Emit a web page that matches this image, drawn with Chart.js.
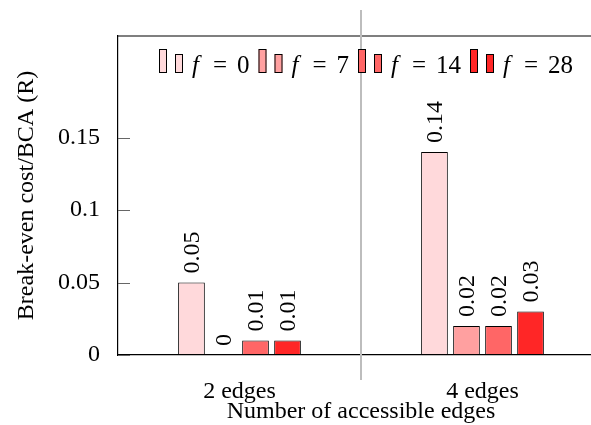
<!DOCTYPE html>
<html>
<head>
<meta charset="utf-8">
<script src="https://cdn.jsdelivr.net/npm/chart.js@4/dist/chart.umd.min.js"></script>
<style>
  html, body { margin: 0; padding: 0; overflow: hidden; background: #fff; }
  canvas { display: block; }
</style>
</head>
<body>
<canvas id="breakEven" width="620" height="425"></canvas>
<script>
// break-even cost relative to BCA, grouped by number of accessible edges
const categories = ['2 edges', '4 edges'];
const fLevels = ['0', '7', '14', '28'];
const fColors = ['#ffd9db', '#ffa0a0', '#ff6666', '#ff2626'];
const costF0 = [0.05, 0.14];
const costF7 = [0, 0.02];
const costF14 = [0.01, 0.02];
const costF28 = [0.01, 0.03];
const yTicks = [0, 0.05, 0.1, 0.15];
const yMax = 0.22;

const FONT = "'Liberation Serif', serif";
const series = [costF0, costF7, costF14, costF28];

// top frame line, inward tick marks and the grey group separator
const framePlugin = {
    id: 'frame',
    afterDraw(chart) {
        const ctx = chart.ctx;
        const area = chart.chartArea;
        const x = chart.scales.x;
        const y = chart.scales.y;
        ctx.save();
        ctx.strokeStyle = '#000';
        ctx.lineWidth = 1.2;
        ctx.beginPath();
        ctx.moveTo(area.left, area.top);
        ctx.lineTo(area.right, area.top);
        ctx.lineTo(area.right, area.bottom);
        ctx.stroke();

        ctx.strokeStyle = '#666';
        ctx.lineWidth = 1;
        yTicks.forEach(v => {
            const py = Math.round(y.getPixelForValue(v)) + 0.5;
            ctx.beginPath();
            ctx.moveTo(area.left, py);
            ctx.lineTo(area.left + 12, py);
            ctx.moveTo(area.right, py);
            ctx.lineTo(area.right - 12, py);
            ctx.stroke();
        });

        const sx = (x.getPixelForTick(0) + x.getPixelForTick(1)) / 2;
        ctx.strokeStyle = '#bdbdbd';
        ctx.lineWidth = 2;
        ctx.beginPath();
        ctx.moveTo(sx, 10);
        ctx.lineTo(sx, 380);
        ctx.stroke();
        ctx.restore();
    }
};

// vertical value labels above each bar
const valueLabels = {
    id: 'valueLabels',
    afterDatasetsDraw(chart) {
        const ctx = chart.ctx;
        ctx.save();
        ctx.fillStyle = '#000';
        ctx.font = '24px ' + FONT;
        ctx.textAlign = 'left';
        ctx.textBaseline = 'middle';
        chart.data.datasets.forEach((ds, i) => {
            chart.getDatasetMeta(i).data.forEach((bar, j) => {
                ctx.save();
                ctx.translate(bar.x + 1, bar.y - 9);
                ctx.rotate(-Math.PI / 2);
                ctx.fillText(String(ds.data[j]), 0, 0);
                ctx.restore();
            });
        });
        ctx.restore();
    }
};

// legend with two small bar glyphs per entry
const barLegend = {
    id: 'barLegend',
    afterDraw(chart) {
        const ctx = chart.ctx;
        let x = 159;
        const base = 73;
        ctx.save();
        chart.data.datasets.forEach((ds, i) => {
            ctx.fillStyle = ds.backgroundColor;
            ctx.strokeStyle = '#000';
            ctx.lineWidth = 1;
            ctx.fillRect(x, base - 24, 8, 24);
            ctx.strokeRect(x + 0.5, base - 24 + 0.5, 7, 23);
            ctx.fillRect(x + 16, base - 19, 8, 19);
            ctx.strokeRect(x + 16.5, base - 19 + 0.5, 7, 18);

            const tx = x + 33;
            ctx.fillStyle = '#000';
            ctx.textBaseline = 'alphabetic';
            ctx.textAlign = 'left';
            ctx.font = 'italic 25px ' + FONT;
            ctx.fillText('f', tx, base);
            ctx.font = '25px ' + FONT;
            ctx.textAlign = 'center';
            ctx.fillText('=', tx + 28, base);
            ctx.textAlign = 'left';
            ctx.fillText(fLevels[i], tx + 45, base);
            x = tx + 45 + ctx.measureText(fLevels[i]).width + 9;
        });
        ctx.restore();
    }
};

function drawChart() {
    const ctx = document.getElementById('breakEven').getContext('2d');

    new Chart(ctx, {
        type: 'bar',
        data: {
            labels: categories,
            datasets: series.map((vals, i) => ({
                label: 'f = ' + fLevels[i],
                data: vals,
                backgroundColor: fColors[i],
                borderColor: '#000',
                borderWidth: 1,
                borderSkipped: false,
                categoryPercentage: 0.527,
                barPercentage: 0.834,
            })),
        },
        options: {
            responsive: false,
            animation: false,
            layout: { padding: { left: 0, top: 36, right: 16, bottom: 0 } },
            plugins: {
                legend: { display: false },
                tooltip: { enabled: false },
            },
            scales: {
                x: {
                    grid: { display: false },
                    border: { display: true, color: '#000', width: 1.2 },
                    ticks: { color: '#000', padding: 14, font: { family: FONT, size: 24 } },
                    title: {
                        display: true,
                        text: 'Number of accessible edges',
                        color: '#000',
                        padding: { top: 0, bottom: -1 },
                        font: { family: FONT, size: 24 },
                    },
                    afterFit(scale) { scale.height = 70; },
                },
                y: {
                    min: 0,
                    max: yMax,
                    grid: { display: false },
                    border: { display: true, color: '#000', width: 1.2 },
                    afterBuildTicks(scale) { scale.ticks = yTicks.map(v => ({ value: v })); },
                    ticks: {
                        color: '#000',
                        padding: 10,
                        font: { family: FONT, size: 24 },
                        callback: v => String(v),
                    },
                    title: {
                        display: true,
                        text: 'Break-even cost/BCA (R)',
                        color: '#000',
                        padding: { top: 12, bottom: 0 },
                        font: { family: FONT, size: 24 },
                    },
                    afterFit(scale) { scale.width = 118; },
                },
            },
        },
        plugins: [framePlugin, valueLabels, barLegend],
    });
}

Promise.all([
    document.fonts.load("24px 'Liberation Serif'"),
    document.fonts.load("italic 25px 'Liberation Serif'"),
]).then(drawChart, drawChart);
</script>
</body>
</html>
